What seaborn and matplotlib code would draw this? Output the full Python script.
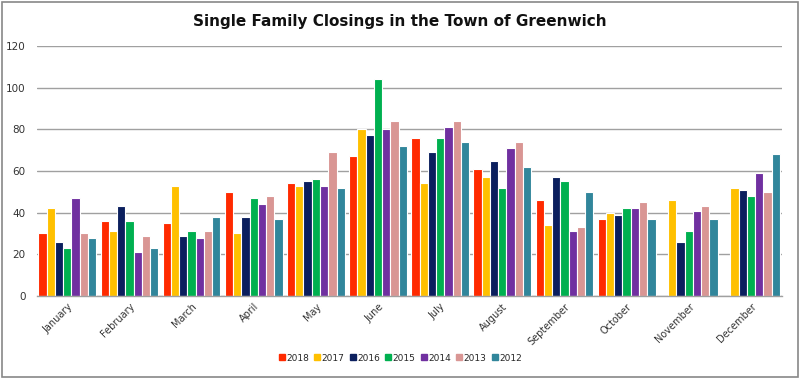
import matplotlib
matplotlib.use("Agg")
import matplotlib.pyplot as plt
import seaborn as sns
import pandas as pd
import numpy as np
from matplotlib.patches import Rectangle
from matplotlib.lines import Line2D

months = ["January", "February", "March", "April", "May", "June", "July",
          "August", "September", "October", "November", "December"]
years = ["2018", "2017", "2016", "2015", "2014", "2013", "2012"]

v2018 = [30, 36, 35, 50, 54, 67, 76, 61, 46, 37, np.nan, np.nan]
v2017 = [42, 31, 53, 30, 53, 80, 54, 57, 34, 40, 46, 52]
v2016 = [26, 43, 29, 38, 55, 77, 69, 65, 57, 39, 26, 51]
v2015 = [23, 36, 31, 47, 56, 104, 76, 52, 55, 42, 31, 48]
v2014 = [47, 21, 28, 44, 53, 80, 81, 71, 31, 42, 41, 59]
v2013 = [30, 29, 31, 48, 69, 84, 84, 74, 33, 45, 43, 50]
v2012 = [28, 23, 38, 37, 52, 72, 74, 62, 50, 37, 37, 68]

colors = ["#FF2A00", "#FFC000", "#0B1F5E", "#00B050", "#7030A0", "#D99694", "#31869B"]

series = [v2018, v2017, v2016, v2015, v2014, v2013, v2012]
rows = []
for y, vals in zip(years, series):
    for m, v in zip(months, vals):
        rows.append({"Month": m, "Year": y, "Closings": v})
df = pd.DataFrame(rows)

sns.set_theme(style="white")
plt.rcParams['font.family'] = ['DejaVu Sans']

fig = plt.figure(figsize=(8, 3.79), dpi=100)
ax = fig.add_axes([0.046, 0.219, 0.9315, 0.66])

sns.barplot(data=df, x="Month", y="Closings", hue="Year", order=months,
            hue_order=years, palette=colors, width=0.93, saturation=1,
            edgecolor="white", linewidth=0.8, ax=ax, legend=False)

ax.set_ylim(0, 120)
ax.set_yticks(range(0, 121, 20))
ax.set_xlim(-0.49, 11.5)
ax.yaxis.grid(True, color="#a0a0a0", linewidth=1.0)
ax.set_axisbelow(True)
for s in ["left", "top", "right"]:
    ax.spines[s].set_visible(False)
ax.spines["bottom"].set_color("#a0a0a0")
ax.spines["bottom"].set_linewidth(1.0)
ax.set_xlabel("")
ax.set_ylabel("")
ax.tick_params(axis="y", length=0, labelsize=7.5, colors="#333333", pad=8)
ax.tick_params(axis="x", length=0, labelsize=7, colors="#333333", pad=4)
plt.setp(ax.get_xticklabels(), rotation=45, ha="right", rotation_mode="anchor")

fig.text(0.5, 0.942, "Single Family Closings in the Town of Greenwich",
         ha="center", va="center", fontsize=11, fontweight="bold", color="#111111")

handles = [Line2D([0], [0], marker="s", linestyle="none", markersize=4,
                  markerfacecolor=c, markeredgecolor=c) for c in colors]
fig.legend(handles, years, loc="center", bbox_to_anchor=(0.5, 0.055), ncol=7,
           frameon=False, fontsize=6.5, handletextpad=0.1, columnspacing=0.5,
           handlelength=0.8)

fig.patches.append(Rectangle((0.002, 0.006), 0.995, 0.99, transform=fig.transFigure,
                             fill=False, edgecolor="#888888", linewidth=1.2))

fig.savefig("out.png", dpi=100)
